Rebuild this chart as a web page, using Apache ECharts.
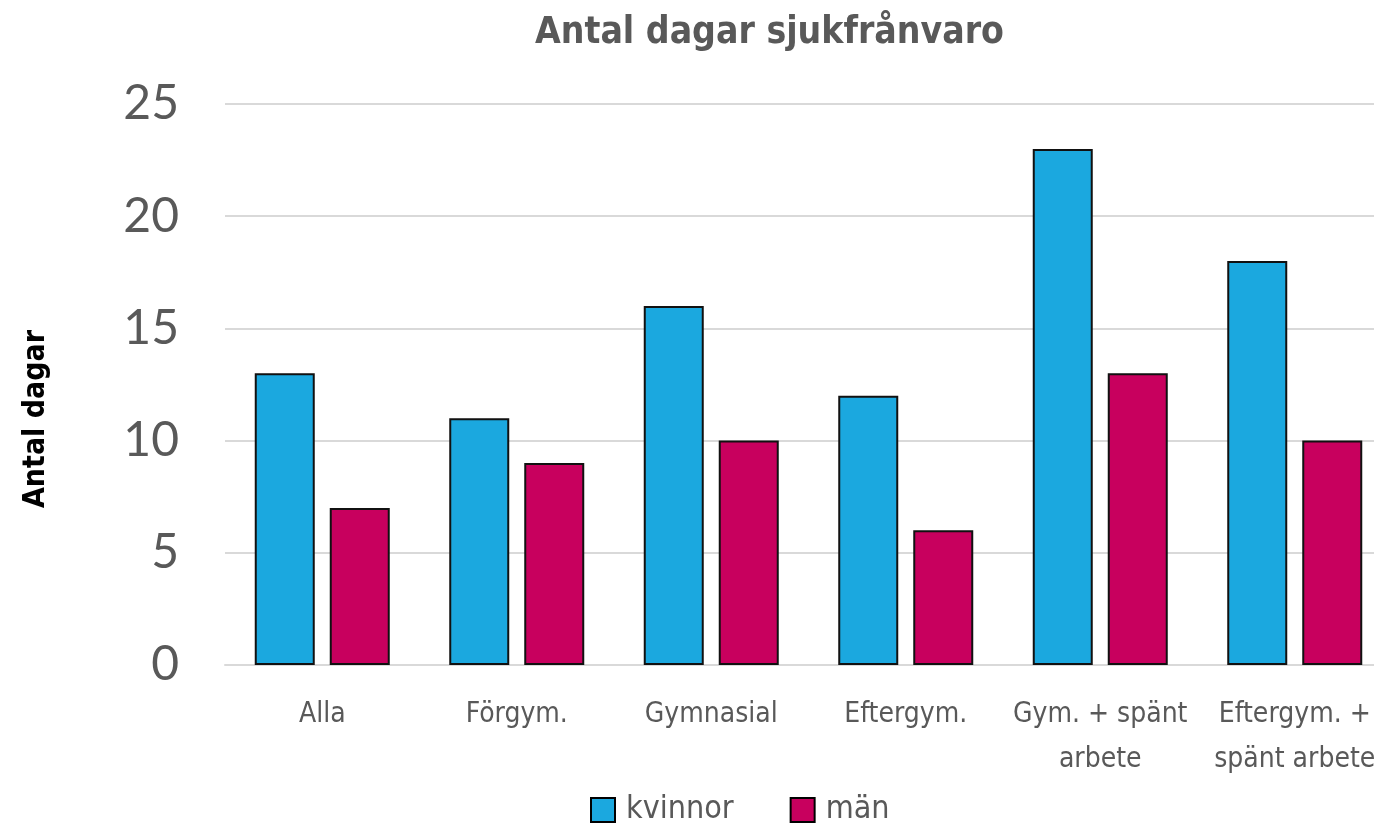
<!DOCTYPE html>
<html><head><meta charset="utf-8">
<script src="https://cdn.jsdelivr.net/npm/echarts@6/dist/echarts.min.js"></script>
<style>html,body{margin:0;padding:0;background:#fff}#c{width:1374px;height:833px}</style>
</head><body><div id="c"></div>
<script>
const categories = ['Alla', 'Förgym.', 'Gymnasial', 'Eftergym.', 'Gym. + spänt\narbete', 'Eftergym. +\nspänt arbete'];
const kvinnor = [13, 11, 16, 12, 23, 18];
const man = [7, 9, 10, 6, 13, 10];
const yTicks = [0, 5, 10, 15, 20, 25];
const yAxisTitle = 'Antal dagar';

const cond = '"DejaVu Sans Condensed", "Noto Sans", sans-serif';
const chart = echarts.init(document.getElementById('c'));
chart.setOption({
  animation: false,
  title: {
    text: 'Antal dagar sjukfrånvaro', left: 530, top: 10,
    textStyle: { fontFamily: cond, fontSize: 37, fontWeight: 'bold', color: '#595959' }
  },
  legend: {
    bottom: 2, left: 585, itemWidth: 24, itemHeight: 24, itemGap: 56, icon: 'rect',
    textStyle: { fontFamily: cond, fontSize: 32, color: '#595959', padding: [0, 0, 0, 6] },
    data: [{ name: 'kvinnor', itemStyle: { borderColor: '#000', borderWidth: 2 } },
           { name: 'män', itemStyle: { borderColor: '#000', borderWidth: 2 } }]
  },
  grid: { left: 225, width: 1167, top: 104, bottom: 168, containLabel: false, outerBoundsMode: 'none' },
  xAxis: {
    type: 'category', data: categories,
    axisLine: { lineStyle: { color: '#d9d9d9', width: 2 } },
    axisTick: { show: false },
    axisLabel: { fontFamily: cond, fontSize: 28, color: '#595959', margin: 27, lineHeight: 45, interval: 0 }
  },
  yAxis: {
    type: 'value', min: yTicks[0], max: yTicks[yTicks.length - 1], interval: 5,
    axisLine: { show: false }, axisTick: { show: false },
    axisLabel: { fontFamily: 'Lato, "Noto Sans", sans-serif', fontSize: 48, color: '#595959', margin: 46 },
    splitLine: { lineStyle: { color: '#d9d9d9', width: 2 } }
  },
  graphic: [{
    type: 'text', x: 36, y: 419, rotation: Math.PI / 2,
    style: { text: yAxisTitle, fontFamily: cond, fontSize: 30, fontWeight: 'bold', fill: '#000',
             align: 'center', verticalAlign: 'middle' }
  }],
  series: [
    { name: 'kvinnor', type: 'bar', data: kvinnor, barWidth: 60, barGap: '25%',
      itemStyle: { color: '#1BA8DF', borderColor: '#111', borderWidth: 2 } },
    { name: 'män', type: 'bar', data: man, barWidth: 60,
      itemStyle: { color: '#C8005E', borderColor: '#111', borderWidth: 2 } }
  ]
});
</script></body></html>
